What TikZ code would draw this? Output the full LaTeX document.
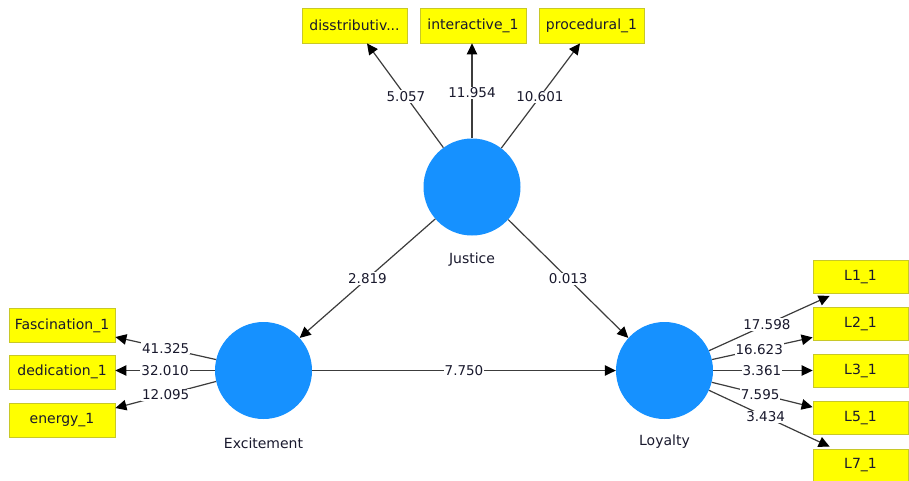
\documentclass[tikz,border=0pt]{standalone}
\usepackage{fontspec}
\setmainfont{DejaVu Sans}
\usetikzlibrary{arrows.meta}
\definecolor{latblue}{RGB}{22,145,255}
\definecolor{indyellow}{RGB}{255,255,0}
\definecolor{indedge}{RGB}{200,200,40}
\definecolor{edgegray}{RGB}{60,60,60}
\definecolor{txt}{RGB}{25,25,45}
\begin{document}
\begin{tikzpicture}[x=1pt,y=-1pt,
  lat/.style={circle,fill=latblue,draw=none,minimum size=97pt,inner sep=0pt},
  latlab/.style={font=\fontsize{14}{16}\selectfont,text=txt},
  ind/.style={rectangle,fill=indyellow,draw=indedge,line width=0.8pt,minimum height=34pt,inner sep=0pt,font=\fontsize{14}{16}\selectfont,text=txt},
  path/.style={draw=edgegray,line width=1.2pt,-{Triangle[length=11pt,width=10.5pt,color=black]}},
  coef/.style={fill=white,inner sep=1pt,font=\fontsize{13.5}{15}\selectfont,text=txt}]
\useasboundingbox (0,0) rectangle (909,480);

% latent variables
\node[lat] (J) at (472,187) {};
\node[lat] (E) at (263.5,370.5) {};
\node[lat] (L) at (664.5,370.5) {};
\node[latlab] (Jlab) at (472,260) {Justice};
\node[latlab] (Elab) at (263.5,443) {Excitement};
\node[latlab] (Llab) at (664.5,442) {Loyalty};

% indicators of Justice
\node[ind,minimum width=105pt,minimum height=35pt] (dis) at (354.5,25.5) {disstributiv...};
\node[ind,minimum width=106pt,minimum height=35pt] (inter) at (473,25.5) {interactive\_1};
\node[ind,minimum width=105pt,minimum height=35pt] (proc) at (591.5,25.5) {procedural\_1};

% indicators of Excitement
\node[ind,minimum width=106pt] (fas) at (62,325.5) {Fascination\_1};
\node[ind,minimum width=106pt] (ded) at (62,372) {dedication\_1};
\node[ind,minimum width=106pt] (ene) at (62,420) {energy\_1};

% indicators of Loyalty
\node[ind,minimum width=95pt,minimum height=33pt] (l1) at (860.5,277) {L1\_1};
\node[ind,minimum width=95pt,minimum height=33pt] (l2) at (860.5,324) {L2\_1};
\node[ind,minimum width=95pt,minimum height=33pt] (l3) at (860.5,370.5) {L3\_1};
\node[ind,minimum width=95pt,minimum height=33pt] (l5) at (860.5,418) {L5\_1};
\node[ind,minimum width=95pt,minimum height=33pt] (l7) at (860.5,465.5) {L7\_1};

% outer loadings: Justice
\draw[path] (J.126.6) -- node[coef,pos=0.49]{5.057} ([xshift=12.5pt]dis.south);
\draw[path] (J.90) -- node[coef,pos=0.48]{11.954} ([xshift=-1pt]inter.south);
\draw[path] (J.53.4) -- node[coef,pos=0.49]{10.601} ([xshift=-11.5pt]proc.south);

% outer loadings: Excitement
\draw[path] (E.167) -- node[coef,pos=0.5]{41.325} ([yshift=-11.5pt]fas.east);
\draw[path] (E.180) -- node[coef,pos=0.5]{32.010} (E.180 -| ded.east);
\draw[path] (E.193) -- node[coef,pos=0.5]{12.095} ([yshift=12pt]ene.east);

% outer loadings: Loyalty
\draw[path] (L.24.8) -- node[coef,pos=0.48]{17.598} ([xshift=17pt,yshift=-2pt]l1.south west);
\draw[path] (L.13.9) -- node[coef,pos=0.47]{16.623} ([yshift=3.5pt]l2.south west);
\draw[path] (L.0) -- node[coef,pos=0.49]{3.361} (l3.west);
\draw[path] (L.-14) -- node[coef,pos=0.48]{7.595} ([yshift=-6pt]l5.north west);
\draw[path] (L.-24.8) -- node[coef,pos=0.47]{3.434} ([xshift=17pt,yshift=2pt]l7.north west);

% structural paths
\draw[path] (J.221.7) -- node[coef,pos=0.5]{2.819} (E.42);
\draw[path] (J.318.3) -- node[coef,pos=0.5]{0.013} (L.138.7);
\draw[path] (E.0) -- node[coef,pos=0.5]{7.750} (L.180);
\end{tikzpicture}
\end{document}
